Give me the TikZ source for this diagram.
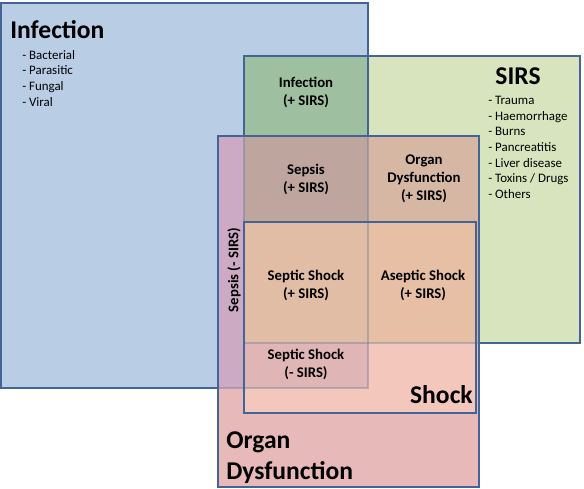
\documentclass[tikz,border=0pt]{standalone}
\usepackage{fontspec}
\setmainfont{Carlito}
\usepackage{tikz}
\usetikzlibrary{positioning}
\definecolor{edgeblue}{RGB}{66,100,150}
\definecolor{infc}{RGB}{185,205,229}
\definecolor{sirsc}{RGB}{215,228,189}
\definecolor{infsirsc}{RGB}{158,191,160}
\definecolor{organc}{RGB}{231,186,185}
\definecolor{inforganc}{RGB}{205,170,196}
\definecolor{sirsorganc}{RGB}{214,183,164}
\definecolor{allthreec}{RGB}{190,166,158}
\definecolor{shockc}{RGB}{243,199,188}
\definecolor{shockinfc}{RGB}{224,181,182}
\definecolor{shocksirsc}{RGB}{230,191,164}
\definecolor{shockallc}{RGB}{226,189,166}

\tikzset{
  setbox/.style={draw=edgeblue,line width=1.2pt},
  hidden/.style={draw=edgeblue,line width=1.1pt,draw opacity=0.3},
  settitle/.style={inner sep=0pt,font=\fontsize{18.2}{22}\selectfont\bfseries},
  causes/.style={inner sep=0pt,anchor=north west,align=left,font=\fontsize{9.2}{11.1}\selectfont},
  region/.style={inner sep=0pt,align=center,font=\fontsize{10.5}{12.8}\selectfont\bfseries}
}

\begin{document}
\begin{tikzpicture}[x=0.025cm,y=-0.025cm]
  \useasboundingbox (0,0) rectangle (584,488);
  % fills of the four sets and their overlaps
  \fill[infc] (1,3) rectangle (368,388);
  \fill[sirsc] (244,56) rectangle (580,343);
  \fill[infsirsc] (244,56) rectangle (368,388);
  \fill[organc] (218,136) rectangle (479,487);
  \fill[inforganc] (218,136) rectangle (368,388);
  \fill[sirsorganc] (244,136) rectangle (479,343);
  \fill[allthreec] (244,136) rectangle (368,343);
  \fill[shockc] (244,222) rectangle (476,413);
  \fill[shockinfc] (244,222) rectangle (368,388);
  \fill[shocksirsc] (244,222) rectangle (476,343);
  \fill[shockallc] (244,222) rectangle (368,343);
  % borders
  \draw[hidden] (368,136) -- (368,388) -- (218,388);
  \draw[hidden] (244,136) -- (244,222);
  \draw[hidden] (244,343) -- (479,343);
  \draw[setbox] (218,388) -- (1,388) -- (1,3) -- (368,3) -- (368,136);
  \draw[setbox] (244,136) -- (244,56) -- (580,56) -- (580,343) -- (479,343);
  \draw[setbox] (218,136) rectangle (479,487);
  \draw[setbox] (244,222) rectangle (476,413);

  % set titles
  \node[settitle,anchor=west] (inftitle) at (10,30) {Infection};
  \node[causes] (inflist) at (22,50) {- Bacterial\\- Parasitic\\- Fungal\\- Viral};
  \node[settitle] (sirstitle) at (518,76) {SIRS};
  \node[causes] (sirslist) at (488,96) {- Trauma\\- Haemorrhage\\- Burns\\- Pancreatitis\\- Liver disease\\- Toxins / Drugs\\- Others};
  \node[settitle,anchor=east] (shocktitle) at (473,395) {Shock};
  \node[settitle,anchor=west,align=left] (organtitle) at (226,458) {Organ\\Dysfunction};

  % overlap labels
  \node[region] (infsirs) at (306,92) {Infection\\(+ SIRS)};
  \node[region] (sepsis) at (306,179) {Sepsis\\(+ SIRS)};
  \node[region] (organsirs) at (424,179) {Organ\\Dysfunction\\(+ SIRS)};
  \node[region] (septic) at (306,285) {Septic Shock\\(+ SIRS)};
  \node[region] (aseptic) at (423,285) {Aseptic Shock\\(+ SIRS)};
  \node[region] (septicneg) at (306,364) {Septic Shock\\(- SIRS)};
  \node[region,rotate=90] (sepsisneg) at (234,270) {Sepsis (- SIRS)};
\end{tikzpicture}
\end{document}
